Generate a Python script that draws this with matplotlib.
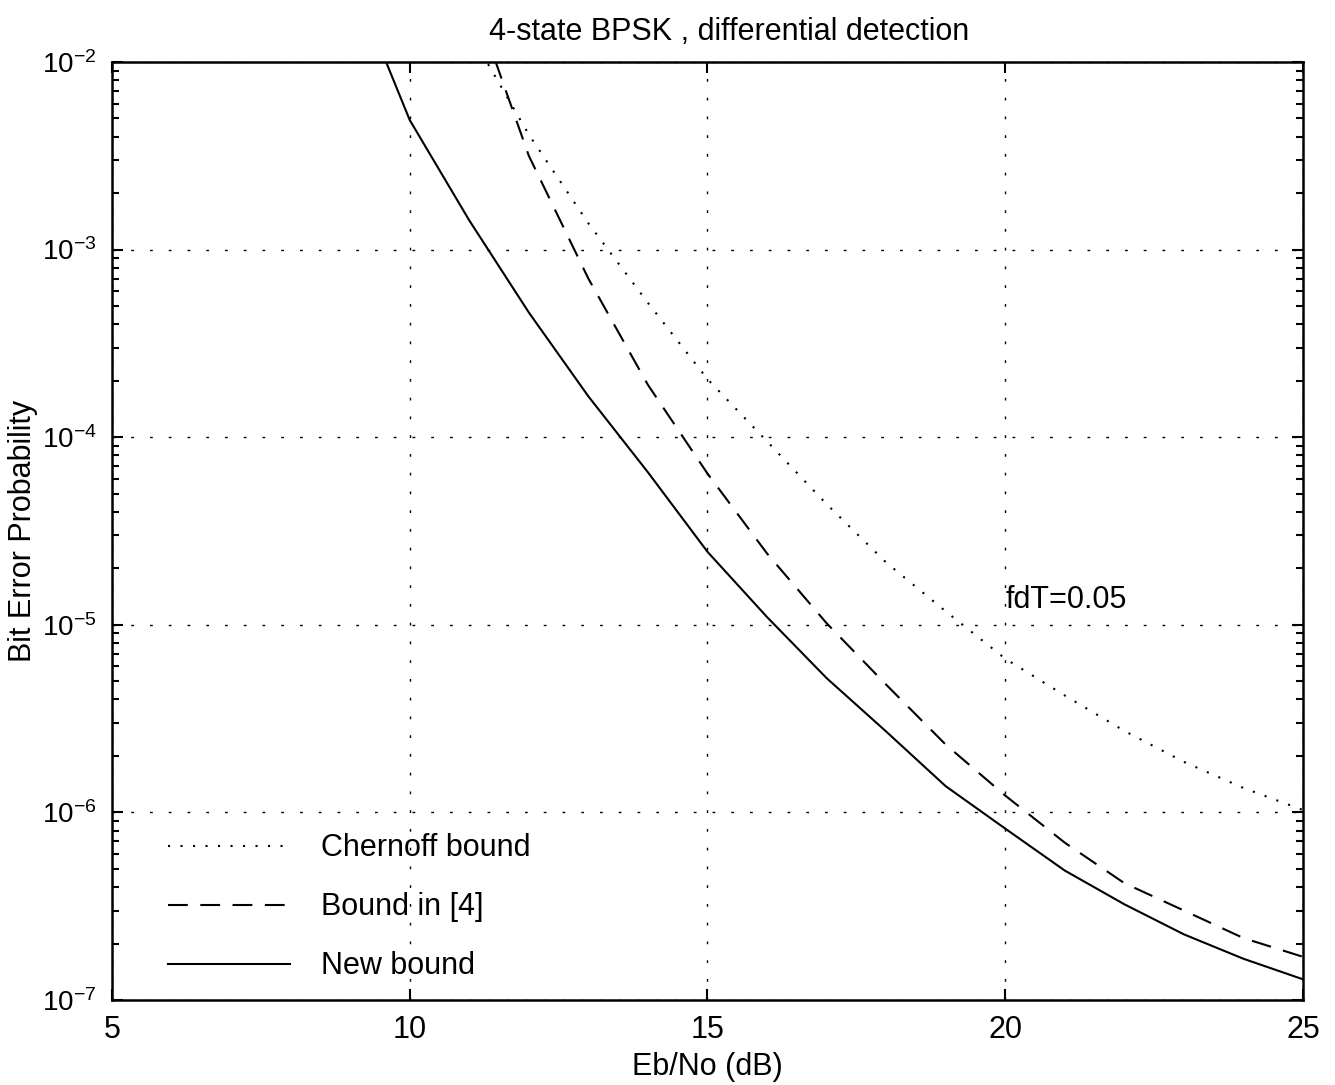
import numpy as np
import matplotlib
matplotlib.use("Agg")
import matplotlib.pyplot as plt
from matplotlib.ticker import LogLocator, FixedLocator

plt.rcParams['font.family'] = ['Liberation Sans', 'DejaVu Sans']
plt.rcParams['mathtext.fontset'] = 'custom'
plt.rcParams['mathtext.rm'] = 'Liberation Sans'
plt.rcParams['mathtext.it'] = 'Liberation Sans:italic'
plt.rcParams['mathtext.bf'] = 'Liberation Sans:bold'

# ---- data (Eb/No in dB, bit error probability) ----
snr_new = [9, 10, 11, 12, 13, 14, 15, 16, 17, 18, 19, 20, 21, 22, 23, 24, 25]
ber_new = [2.95e-2, 4.9e-3, 1.43e-3, 4.62e-4, 1.65e-4, 6.5e-5, 2.45e-5, 1.10e-5,
           5.2e-6, 2.7e-6, 1.38e-6, 8.2e-7, 4.9e-7, 3.24e-7, 2.24e-7, 1.66e-7, 1.29e-7]

snr_b4 = [11, 12, 13, 14, 15, 16, 17, 18, 19, 20, 21, 22, 23, 24, 25]
ber_b4 = [2.5e-2, 3.16e-3, 7.0e-4, 1.9e-4, 6.4e-5, 2.4e-5, 1.02e-5, 4.8e-6,
          2.3e-6, 1.23e-6, 6.9e-7, 4.2e-7, 3.0e-7, 2.14e-7, 1.7e-7]

snr_ch = [11, 12, 13, 14, 15, 16, 17, 18, 19, 20, 21, 22, 23, 24, 25]
ber_ch = [1.45e-2, 4.1e-3, 1.38e-3, 5.2e-4, 2.04e-4, 9.5e-5, 4.4e-5, 2.15e-5,
          1.18e-5, 6.6e-6, 4.2e-6, 2.72e-6, 1.86e-6, 1.35e-6, 1.03e-6]

fig = plt.figure(figsize=(13.35, 10.85), dpi=100)
ax = fig.add_axes([0.0839, 0.0783, 0.8921, 0.8646])

ax.plot(snr_ch, ber_ch, color='black', lw=1.5, linestyle=(0, (1, 5)),
        label='Chernoff bound')
ax.plot(snr_b4, ber_b4, color='black', lw=1.5, linestyle=(0, (9.5, 6)),
        label='Bound in [4]')
ax.plot(snr_new, ber_new, color='black', lw=1.5, linestyle='-',
        label='New bound')

ax.set_yscale('log')
ax.set_xlim(5, 25)
ax.set_ylim(1e-7, 1e-2)
ax.xaxis.set_major_locator(FixedLocator([5, 10, 15, 20, 25]))
ax.yaxis.set_major_locator(LogLocator(base=10, numticks=10))
ax.yaxis.set_minor_locator(LogLocator(base=10, subs=np.arange(2, 10), numticks=20))

ax.grid(True, which='major', color='black', lw=1.0, linestyle=(0, (2, 11.5)))
ax.tick_params(which='both', direction='in', top=True, right=True,
               width=1.5, colors='black')
ax.tick_params(axis='x', labelsize=22)
ax.tick_params(axis='y', labelsize=20)
ax.tick_params(which='major', length=8, pad=11)
ax.tick_params(which='minor', length=5)
for s in ax.spines.values():
    s.set_linewidth(1.8)

ax.set_title('4-state BPSK , differential detection', fontsize=22, pad=16, x=0.518)
ax.set_xlabel('Eb/No (dB)', fontsize=22, labelpad=5)
ax.set_ylabel('Bit Error Probability', fontsize=22)
ax.yaxis.set_label_coords(-0.062, 0.5)

ax.text(20.0, 1.35e-5, 'fdT=0.05', fontsize=22, va='center', ha='left')

ax.legend(loc='lower left', bbox_to_anchor=(0.047, 0.02), frameon=False,
          fontsize=22, handlelength=4.0, handletextpad=1.0, labelspacing=0.95,
          borderpad=0, borderaxespad=0)

fig.savefig('out.png', dpi=100)
